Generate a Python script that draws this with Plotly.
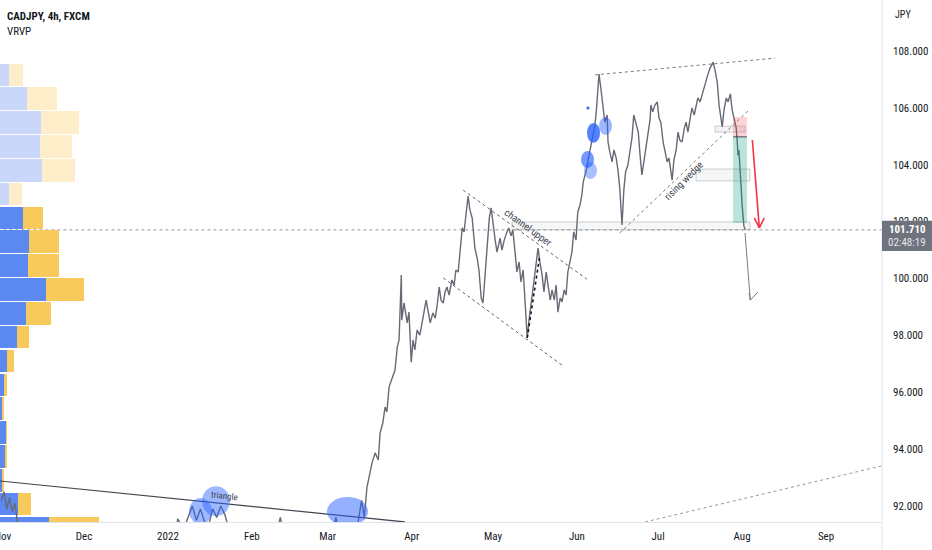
import plotly.graph_objects as go

# ---------------- data ----------------
price_time = [
    "2021-10-31 12:00", "2021-11-01 12:00", "2021-11-02 12:00", "2021-11-03 12:00", "2021-11-04 12:00",
    "2021-11-05 12:00", "2021-11-07 00:00", "2021-11-12 00:00", "2021-11-18 00:00", "2021-11-24 00:00",
    "2021-11-29 00:00", "2021-12-01 00:00", "2021-12-06 00:00", "2021-12-10 00:00", "2021-12-15 00:00",
    "2021-12-20 00:00", "2021-12-24 00:00", "2021-12-29 00:00", "2022-01-03 00:00", "2022-01-04 14:00",
    "2022-01-06 20:00", "2022-01-08 12:00", "2022-01-10 00:00", "2022-01-11 12:00", "2022-01-13 00:00",
    "2022-01-14 12:00", "2022-01-16 00:00", "2022-01-17 12:00", "2022-01-19 00:00", "2022-01-20 12:00",
    "2022-01-22 00:00", "2022-01-23 12:00", "2022-01-26 00:00", "2022-01-30 00:00", "2022-02-03 00:00",
    "2022-02-07 00:00", "2022-02-10 12:00", "2022-02-11 12:00", "2022-02-13 00:00", "2022-02-17 00:00",
    "2022-02-21 00:00", "2022-02-25 00:00", "2022-03-01 00:00", "2022-03-04 00:00", "2022-03-06 00:00",
    "2022-03-09 00:00", "2022-03-12 00:00", "2022-03-13 12:00", "2022-03-14 12:00", "2022-03-15 12:00",
    "2022-03-17 08:00", "2022-03-18 12:00", "2022-03-19 16:00", "2022-03-20 08:00", "2022-03-21 08:00",
    "2022-03-22 04:00", "2022-03-22 20:00", "2022-03-23 16:00", "2022-03-24 16:00", "2022-03-25 20:00",
    "2022-03-26 16:00", "2022-03-27 08:00", "2022-03-28 04:00", "2022-03-28 08:00", "2022-03-29 04:00",
    "2022-03-30 08:00", "2022-03-31 00:00", "2022-03-31 20:00", "2022-04-01 12:00", "2022-04-02 04:00",
    "2022-04-03 00:00", "2022-04-04 00:00", "2022-04-04 20:00", "2022-04-06 08:00", "2022-04-07 00:00",
    "2022-04-07 20:00", "2022-04-08 20:00", "2022-04-09 16:00", "2022-04-10 08:00", "2022-04-11 04:00",
    "2022-04-11 20:00", "2022-04-12 16:00", "2022-04-13 08:00", "2022-04-14 00:00", "2022-04-14 20:00",
    "2022-04-15 20:00", "2022-04-16 16:00", "2022-04-17 08:00", "2022-04-18 04:00", "2022-04-18 20:00",
    "2022-04-19 16:00", "2022-04-20 08:00", "2022-04-21 04:00", "2022-04-21 20:00", "2022-04-22 12:00",
    "2022-04-23 08:00", "2022-04-24 08:00", "2022-04-25 04:00", "2022-04-25 20:00", "2022-04-26 16:00",
    "2022-04-27 08:00", "2022-04-28 04:00", "2022-04-28 20:00", "2022-04-29 16:00", "2022-04-30 08:00",
    "2022-05-01 00:00", "2022-05-01 20:00", "2022-05-02 12:00", "2022-05-03 16:00", "2022-05-04 08:00",
    "2022-05-05 04:00", "2022-05-06 04:00", "2022-05-06 20:00", "2022-05-07 16:00", "2022-05-08 08:00",
    "2022-05-09 04:00", "2022-05-09 20:00", "2022-05-10 16:00", "2022-05-11 08:00", "2022-05-12 04:00",
    "2022-05-12 20:00", "2022-05-13 16:00", "2022-05-14 08:00", "2022-05-15 08:00", "2022-05-16 04:00",
    "2022-05-16 20:00", "2022-05-17 16:00", "2022-05-18 08:00", "2022-05-19 04:00", "2022-05-19 20:00",
    "2022-05-20 16:00", "2022-05-21 08:00", "2022-05-22 04:00", "2022-05-22 20:00", "2022-05-23 16:00",
    "2022-05-24 08:00", "2022-05-25 00:00", "2022-05-25 20:00", "2022-05-26 12:00", "2022-05-27 08:00",
    "2022-05-28 00:00", "2022-05-28 16:00", "2022-05-29 12:00", "2022-05-30 04:00", "2022-05-30 20:00",
    "2022-05-31 16:00", "2022-06-01 08:00", "2022-06-02 04:00", "2022-06-02 20:00", "2022-06-03 08:00",
    "2022-06-04 00:00", "2022-06-04 16:00", "2022-06-05 12:00", "2022-06-06 04:00", "2022-06-06 20:00",
    "2022-06-07 16:00", "2022-06-08 04:00", "2022-06-08 20:00", "2022-06-09 04:00", "2022-06-09 20:00",
    "2022-06-10 16:00", "2022-06-11 08:00", "2022-06-12 04:00", "2022-06-12 12:00", "2022-06-13 04:00",
    "2022-06-14 00:00", "2022-06-14 16:00", "2022-06-15 12:00", "2022-06-16 04:00", "2022-06-16 20:00",
    "2022-06-17 16:00", "2022-06-18 08:00", "2022-06-19 00:00", "2022-06-19 20:00", "2022-06-20 16:00",
    "2022-06-21 08:00", "2022-06-22 00:00", "2022-06-22 20:00", "2022-06-23 16:00", "2022-06-24 08:00",
    "2022-06-25 00:00", "2022-06-25 20:00", "2022-06-26 12:00", "2022-06-27 08:00", "2022-06-28 00:00",
    "2022-06-28 08:00", "2022-06-29 00:00", "2022-06-29 20:00", "2022-06-30 16:00", "2022-07-01 08:00",
    "2022-07-02 00:00", "2022-07-02 20:00", "2022-07-03 12:00", "2022-07-04 08:00", "2022-07-05 00:00",
    "2022-07-05 20:00", "2022-07-06 04:00", "2022-07-06 20:00", "2022-07-07 16:00", "2022-07-08 08:00",
    "2022-07-09 00:00", "2022-07-09 20:00", "2022-07-10 16:00", "2022-07-11 08:00", "2022-07-12 00:00",
    "2022-07-12 20:00", "2022-07-13 12:00", "2022-07-14 08:00", "2022-07-15 00:00", "2022-07-15 16:00",
    "2022-07-16 12:00", "2022-07-17 04:00", "2022-07-18 00:00", "2022-07-18 16:00", "2022-07-19 08:00",
    "2022-07-20 04:00", "2022-07-20 20:00", "2022-07-21 08:00", "2022-07-22 00:00", "2022-07-22 20:00",
    "2022-07-23 12:00", "2022-07-24 04:00", "2022-07-24 16:00", "2022-07-25 08:00", "2022-07-26 04:00",
    "2022-07-26 20:00", "2022-07-27 16:00", "2022-07-28 08:00", "2022-07-29 00:00", "2022-07-29 20:00",
    "2022-07-30 04:00", "2022-07-30 12:00", "2022-07-30 20:00", "2022-07-31 08:00", "2022-07-31 16:00",
    "2022-08-01 00:00", "2022-08-01 08:00", "2022-08-01 16:00", "2022-08-02 04:00",
]
price_close = [
    92.2, 92.5, 91.9, 92.3, 91.8,
    92.1, 91.0, 89.6, 89.0, 90.2,
    88.5, 88.6, 88.9, 89.3, 88.8,
    88.2, 89.1, 89.7, 90.0, 91.55,
    91.2, 91.6, 92.0, 91.5, 91.9,
    91.45, 91.3, 91.9, 91.6, 92.0,
    91.7, 91.2, 90.5, 90.0, 90.8,
    90.4, 91.2, 91.6, 90.9, 90.3,
    89.9, 89.6, 90.2, 91.6, 90.6,
    90.9, 91.3, 92.2, 91.6, 92.67,
    93.51, 93.87, 93.62, 94.57, 94.92,
    95.48, 95.31, 96.19, 96.43, 96.78,
    97.59, 97.84, 100.12, 98.54, 99.14,
    98.44, 98.82, 97.06, 97.84, 97.49,
    98.19, 98.01, 98.44, 99.24, 98.89,
    98.44, 98.79, 98.61, 99.00, 99.70,
    99.24, 99.14, 99.53, 99.70, 99.42,
    99.95, 99.77, 100.30, 100.23, 101.00,
    101.78, 101.64, 102.41, 102.90, 102.41,
    102.13, 101.07, 100.72, 100.30, 99.32,
    99.14, 100.23, 101.35, 102.13, 102.48,
    101.88, 101.35, 100.93, 101.42, 101.00,
    101.35, 101.64, 101.78, 101.50, 101.71,
    100.93, 100.23, 100.58, 99.88, 100.30,
    99.24, 97.91, 98.54, 99.32, 99.95,
    100.58, 101.07, 100.58, 100.12, 99.53,
    100.23, 99.77, 99.24, 99.60, 99.24,
    99.77, 98.82, 99.32, 99.18, 99.60,
    99.42, 100.23, 100.58, 100.93, 101.64,
    101.35, 102.34, 102.59, 102.94, 103.39,
    103.64, 103.89, 104.34, 104.69, 104.94,
    105.40, 105.86, 106.98, 107.19, 106.70,
    106.00, 105.50, 105.75, 104.80, 104.45,
    104.10, 104.52, 104.24, 103.82, 103.18,
    101.88, 103.11, 103.75, 103.99, 104.52,
    104.94, 105.75, 105.40, 105.15, 104.34,
    103.64, 104.17, 104.59, 105.05, 105.57,
    106.10, 105.86, 106.10, 106.21, 105.64,
    105.50, 104.80, 104.52, 104.10, 104.24,
    103.64, 103.46, 104.17, 104.52, 105.15,
    104.87, 104.80, 105.29, 105.50, 105.15,
    105.64, 106.00, 105.75, 106.10, 106.35,
    106.21, 106.45, 106.70, 106.98, 107.16,
    107.40, 107.54, 107.61, 107.33, 106.91,
    106.10, 105.64, 105.33, 105.93, 106.35,
    106.21, 106.49, 105.93, 105.64, 105.29,
    104.87, 104.34, 104.52, 103.89, 103.18,
    102.59, 102.23, 101.85, 101.71,
]

last_price = 101.71
countdown = "02:48:19"

# Visible range volume profile (rows of price, up / down volume)
vp_price = [107.16, 106.32, 105.48, 104.65, 103.81, 102.97, 102.13, 101.29, 100.45, 99.62,
            98.78, 97.94, 97.10, 96.26, 95.42, 94.59, 93.75, 92.91, 92.07, 91.23]
vp_up = [9, 27, 41, 40, 42, 9, 23, 29, 28, 46, 26, 17, 7, 4, 2, 6, 5, 2, 18, 49]
vp_down = [14, 30, 38, 32, 33, 13, 20, 30, 31, 38, 25, 12, 7, 3, 2, 1, 2, 2, 13, 50]
vp_in_value_area = [False] * 6 + [True] * 14

month_ticks = ["2021-11-01", "2021-12-01", "2022-01-01", "2022-02-01", "2022-03-01", "2022-04-01",
               "2022-05-01", "2022-06-01", "2022-07-01", "2022-08-01", "2022-09-01"]
month_labels = ["Nov", "Dec", "2022", "Feb", "Mar", "Apr", "May", "Jun", "Jul", "Aug", "Sep"]
price_ticks = [92, 94, 96, 98, 100, 102, 104, 106, 108]

FONT = "Liberation Sans Narrow, Arial Narrow, Roboto Condensed, Roboto, sans-serif"
TXT = "#131722"
GRAY = "#787b86"
BORDER = "#e0e3eb"

fig = go.Figure()

# volume profile on hidden linear axis (below price)
up_col = ["#5b88f1" if v else "#c9d7fb" for v in vp_in_value_area]
dn_col = ["#f8ca5c" if v else "#fdedc8" for v in vp_in_value_area]
fig.add_trace(go.Bar(x=vp_up, y=vp_price, orientation="h", marker=dict(color=up_col, line_width=0),
                     width=0.80, xaxis="x", yaxis="y", hoverinfo="skip", showlegend=False))
fig.add_trace(go.Bar(x=vp_down, y=vp_price, orientation="h", marker=dict(color=dn_col, line_width=0),
                     width=0.80, xaxis="x", yaxis="y", hoverinfo="skip", showlegend=False))

# price
fig.add_trace(go.Scatter(x=price_time, y=price_close, mode="lines", line=dict(color="#676a75", width=1.4),
                         xaxis="x2", yaxis="y", hoverinfo="skip", showlegend=False))
# small dot
fig.add_trace(go.Scatter(x=["2022-06-05 02:00"], y=[106.0], mode="markers",
                         marker=dict(color="#2962ff", size=3), xaxis="x2", yaxis="y",
                         hoverinfo="skip", showlegend=False))

shapes = []


def seg(x0, y0, x1, y1, color=GRAY, width=1, dash="solid", layer="above"):
    shapes.append(dict(type="line", xref="x2", yref="y", x0=x0, y0=y0, x1=x1, y1=y1,
                       line=dict(color=color, width=width, dash=dash), layer=layer))


def box(x0, y0, x1, y1, fill, line="rgba(0,0,0,0)", lw=0):
    shapes.append(dict(type="rect", xref="x2", yref="y", x0=x0, y0=y0, x1=x1, y1=y1,
                       fillcolor=fill, line=dict(color=line, width=lw), layer="above"))


def blob(x0, y0, x1, y1, fill):
    shapes.append(dict(type="circle", xref="x2", yref="y", x0=x0, y0=y0, x1=x1, y1=y1,
                       fillcolor=fill, line=dict(width=0), layer="above"))


# last price dotted line
seg("2021-10-30", last_price, "2022-09-25", last_price, color="#9598a1", width=1, dash="dot", layer="below")

# trend lines
seg("2021-10-31 00:00", 92.88, "2022-03-29 12:00", 91.44, color="#434651", width=1.2)
seg("2022-06-07 16:00", 107.16, "2022-08-13 04:00", 107.75, dash="dot")
seg("2022-06-16 20:00", 101.60, "2022-08-03 04:00", 105.89, dash="dot")
seg("2022-04-20 00:00", 103.11, "2022-06-04 16:00", 99.98, color="#5d606b", dash="dot")
seg("2022-04-12 16:00", 100.02, "2022-05-27 00:00", 96.92, color="#5d606b", dash="dot")
seg("2022-05-13 16:00", 97.91, "2022-05-18 08:00", 100.83, color=TXT, width=1.6, dash="dot")
seg("2022-06-26 04:00", 91.44, "2022-09-22 20:00", 93.44, color="#9598a1", dash="dot")

# zones
box("2022-05-08 01:00", 101.71, "2022-08-03 22:00", 101.99, "rgba(120,123,134,0.07)", "rgba(120,123,134,0.35)", 1)
box("2022-07-15 00:00", 103.43, "2022-08-03 22:00", 103.85, "rgba(120,123,134,0.07)", "rgba(120,123,134,0.35)", 1)
box("2022-07-22 00:00", 105.15, "2022-08-02 03:00", 105.36, "rgba(120,123,134,0.10)", "rgba(120,123,134,0.35)", 1)
# position tool
box("2022-07-28 16:00", 104.98, "2022-08-02 19:00", 105.68, "rgba(242,54,69,0.22)")
box("2022-07-28 16:00", 101.95, "2022-08-02 19:00", 104.98, "rgba(8,153,129,0.28)")
seg("2022-07-28 16:00", 104.98, "2022-08-02 19:00", 104.98, color="#434651", width=1)

# highlighter blobs
blob("2022-01-08 18:30", 91.37, "2022-01-17 06:30", 92.28, "rgba(41,98,255,0.45)")
blob("2022-01-13 13:40", 91.65, "2022-01-23 22:00", 92.70, "rgba(41,98,255,0.45)")
blob("2022-02-28 17:30", 91.30, "2022-03-15 21:00", 92.32, "rgba(41,98,255,0.5)")
blob("2022-06-04 18:00", 104.77, "2022-06-09 13:00", 105.47, "rgba(41,98,255,0.80)")
blob("2022-06-09 04:20", 105.05, "2022-06-13 23:30", 105.68, "rgba(41,98,255,0.45)")
blob("2022-06-02 12:40", 103.89, "2022-06-07 08:00", 104.48, "rgba(41,98,255,0.65)")
blob("2022-06-03 15:20", 103.50, "2022-06-08 10:30", 104.10, "rgba(41,98,255,0.40)")

# arrows
seg("2022-08-02 02:00", 101.60, "2022-08-04 01:00", 99.24, color=GRAY, width=1)
seg("2022-08-03 13:40", 99.49, "2022-08-04 01:00", 99.24, color=GRAY, width=1)
seg("2022-08-06 21:30", 99.53, "2022-08-04 01:00", 99.24, color=GRAY, width=1)
seg("2022-08-04 19:00", 104.87, "2022-08-07 09:00", 101.78, color="#f23645", width=1.6)
seg("2022-08-05 12:00", 102.13, "2022-08-07 09:00", 101.78, color="#f23645", width=1.6)
seg("2022-08-09 05:00", 102.13, "2022-08-07 09:00", 101.78, color="#f23645", width=1.6)

# price scale decorations (paper coords)
shapes.append(dict(type="line", xref="paper", yref="paper", x0=1, x1=1, y0=-0.06, y1=1,
                   line=dict(color=BORDER, width=1), layer="above"))
shapes.append(dict(type="rect", xref="paper", yref="paper", x0=1.0, x1=1.06, y0=0.519, y1=0.577,
                   fillcolor="#6f737e", line=dict(width=0), layer="above"))

annotations = [
    dict(text="<b>CADJPY, 4h, FXCM</b>", xref="paper", yref="paper", x=0.006, y=1 - 16 / 522,
         xanchor="left", yanchor="middle", showarrow=False, font=dict(size=11, color=TXT, family=FONT)),
    dict(text="VRVP", xref="paper", yref="paper", x=0.006, y=1 - 32 / 522,
         xanchor="left", yanchor="middle", showarrow=False, font=dict(size=11, color=TXT, family=FONT)),
    dict(text="JPY", xref="paper", yref="paper", x=893 / 882, y=1 - 14 / 522,
         xanchor="left", yanchor="middle", showarrow=False, font=dict(size=10, color=TXT, family=FONT)),
    dict(text="<b>%.3f</b>" % last_price, xref="paper", yref="paper", x=907 / 882, y=1 - 230 / 522,
         xanchor="center", yanchor="middle", showarrow=False, font=dict(size=11, color="white", family=FONT)),
    dict(text=countdown, xref="paper", yref="paper", x=907 / 882, y=1 - 243 / 522,
         xanchor="center", yanchor="middle", showarrow=False,
         font=dict(size=11, color="rgba(255,255,255,0.85)", family=FONT)),
    dict(text="triangle", xref="x2", yref="y", x="2022-01-21 23:00", y=92.35, textangle=6,
         showarrow=False, font=dict(size=9, color="#434651", family=FONT)),
    dict(text="channel upper", xref="x2", yref="y", x="2022-05-13 23:00", y=101.78, textangle=36,
         showarrow=False, font=dict(size=10, color="#434651", family=FONT)),
    dict(text="rising wedge", xref="x2", yref="y", x="2022-07-10 14:00", y=103.43, textangle=-45,
         showarrow=False, font=dict(size=10, color="#434651", family=FONT)),
]

fig.update_layout(
    width=932, height=550,
    margin=dict(l=0, r=50, t=0, b=28, autoexpand=False),
    paper_bgcolor="white", plot_bgcolor="white",
    barmode="stack", bargap=0,
    showlegend=False,
    font=dict(family=FONT, color=TXT, size=11),
    xaxis=dict(range=[0, 882], visible=False, fixedrange=True, automargin=False),
    xaxis2=dict(type="date", overlaying="x", anchor="y", side="bottom",
                range=["2021-10-30 23:30", "2022-09-21 16:00"],
                tickvals=month_ticks, ticktext=month_labels, ticks="", showgrid=False,
                showline=True, linecolor=BORDER, linewidth=1, zeroline=False, automargin=False,
                tickfont=dict(size=11, color=TXT, family=FONT), ticklabelstandoff=4,
                ticklabeloverflow="allow"),
    yaxis=dict(side="right", range=[91.439, 109.793], tickvals=price_ticks,
               ticktext=["%.3f" % v for v in price_ticks], ticks="", showgrid=False,
               showline=False, zeroline=False, automargin=False,
               tickfont=dict(size=11, color=TXT, family=FONT),
               ticklabelstandoff=10, ticklabeloverflow="allow"),
    shapes=shapes,
    annotations=annotations,
)

fig.write_html("out.html", config={"displayModeBar": False},
               post_script="document.body.style.margin='0';document.body.style.padding='0';")
